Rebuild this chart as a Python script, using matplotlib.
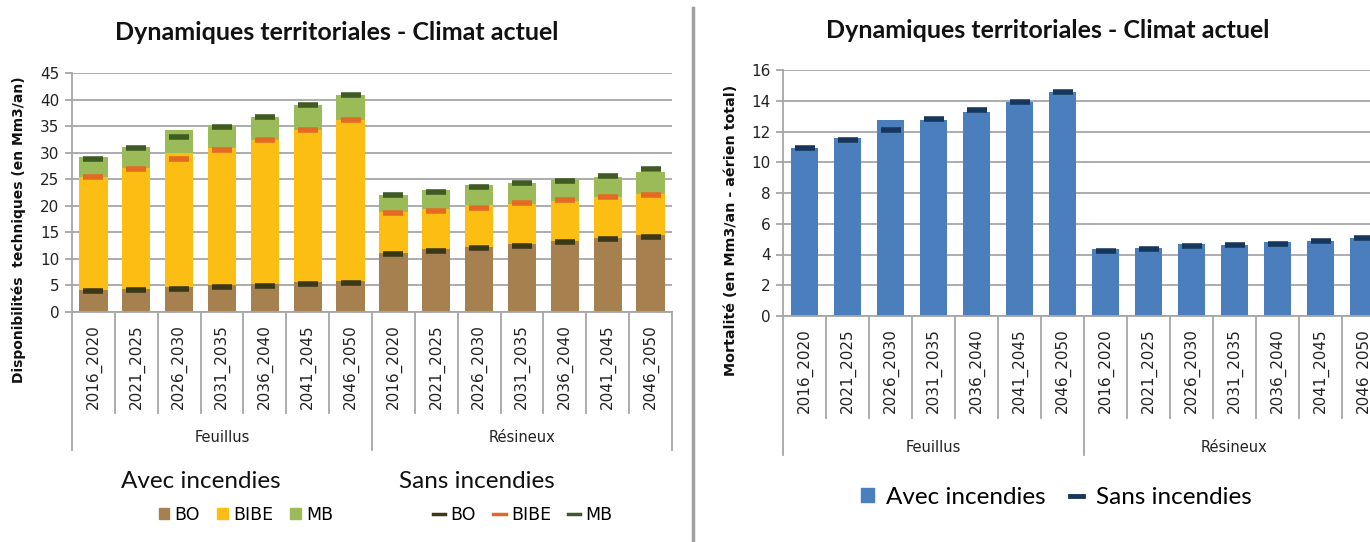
import numpy as np
import matplotlib.pyplot as plt
from matplotlib.patches import Patch
from matplotlib.lines import Line2D

# Categories: 7 periods for each group (Feuillus, Résineux)
periods = ['2016_2020', '2021_2025', '2026_2030', '2031_2035',
           '2036_2040', '2041_2045', '2046_2050']
groups = ['Feuillus', 'Résineux']
labels = periods + periods

# Disponibilités techniques (Mm3/an) - avec incendies (stacked bars)
bo_avec = [4.1, 4.3, 4.7, 5.0, 5.3, 5.6, 5.8,
           11.2, 11.8, 12.3, 12.8, 13.3, 14.0, 14.5]
bibe_avec = [21.3, 22.9, 25.2, 25.8, 27.1, 28.7, 30.4,
             7.7, 7.6, 7.8, 7.6, 7.6, 7.6, 7.7]
mb_avec = [3.7, 3.8, 4.3, 4.3, 4.3, 4.6, 4.6,
           3.2, 3.5, 3.9, 3.8, 4.1, 3.9, 4.2]

# Disponibilités techniques - sans incendies (stacked line, dash markers)
bo_sans = [3.9, 4.1, 4.4, 4.7, 4.9, 5.2, 5.5,
           10.9, 11.4, 12.0, 12.5, 13.1, 13.7, 14.2]
bibe_sans = [21.5, 22.9, 24.5, 25.8, 27.5, 29.1, 30.6,
             7.7, 7.7, 7.6, 8.0, 7.9, 7.9, 7.9]
mb_sans = [3.5, 3.8, 4.1, 4.3, 4.3, 4.6, 4.7,
           3.5, 3.5, 3.9, 3.8, 3.7, 4.0, 4.8]

# Mortalité (Mm3/an - aérien total)
mort_avec = [10.9, 11.55, 12.75, 12.75, 13.3, 13.95, 14.55,
             4.35, 4.4, 4.7, 4.6, 4.8, 4.9, 5.07]
mort_sans = [10.9, 11.45, 12.1, 12.8, 13.4, 13.95, 14.55,
             4.25, 4.35, 4.55, 4.62, 4.7, 4.9, 5.1]

c_bo, c_bibe, c_mb = '#A6804F', '#FDBE14', '#9BBB59'
m_bo, m_bibe, m_mb = '#3B3816', '#E46A22', '#3F5A22'
c_mort, m_mort = '#4A7EBD', '#16365C'
grid_c = '#A6A6A6'
title_font = 'Lato'

W, H = 1370, 542
fig = plt.figure(figsize=(W / 100, H / 100), dpi=100)


def px_axes(x0, y0, x1, y1):
    # axes from pixel box (top-left origin)
    return fig.add_axes([x0 / W, 1 - y1 / H, (x1 - x0) / W, (y1 - y0) / H])


def style_axes(ax, ymax, ystep, sep_bottom, grp_bottom, grp_label_y):
    n = len(labels)
    x = np.arange(n)
    ax.set_xlim(-0.5, n - 0.5)
    ax.set_ylim(0, ymax)
    ax.set_yticks(np.arange(0, ymax + 0.1, ystep))
    ax.yaxis.grid(True, color=grid_c, lw=1.3)
    ax.set_axisbelow(True)
    for s in ['top', 'right']:
        ax.spines[s].set_visible(False)
    for s in ['left', 'bottom']:
        ax.spines[s].set_color(grid_c)
        ax.spines[s].set_linewidth(1.3)
    ax.tick_params(axis='y', color=grid_c, length=5, width=1.3,
                   labelsize=11, pad=4, labelcolor='#222222')
    ax.set_xticks(x)
    ax.set_xticklabels(labels, rotation=90, fontsize=11, color='#222222')
    ax.tick_params(axis='x', length=0, pad=9)
    # multi-level category lines below the axis
    tr = ax.get_xaxis_transform()
    for i in range(n + 1):
        b = grp_bottom if i % 7 == 0 else sep_bottom
        ax.plot([i - 0.5, i - 0.5], [0, b], transform=tr, color=grid_c,
                lw=1.3, clip_on=False)
    for g, name in enumerate(groups):
        ax.text(g * 7 + 3, grp_label_y, name, transform=tr, ha='center',
                va='center', fontsize=10.5, color='#222222')


# Left chart: disponibilités techniques
ax1 = px_axes(72, 73, 672, 312)
x = np.arange(len(labels))
bw = 0.66
ax1.bar(x, bo_avec, bw, color=c_bo)
ax1.bar(x, bibe_avec, bw, bottom=bo_avec, color=c_bibe)
ax1.bar(x, mb_avec, bw, bottom=np.add(bo_avec, bibe_avec), color=c_mb)

sans_cum = np.cumsum([bo_sans, bibe_sans, mb_sans], axis=0)
for vals, col in zip(sans_cum, [m_bo, m_bibe, m_mb]):
    ax1.plot(x, vals, ls='none', marker='_', ms=14.5, mew=4, color=col)

style_axes(ax1, 45, 5, -0.4226, -0.577, -0.527)
fig.text(19 / W, 1 - 230 / H, 'Disponibilités  techniques (en Mm3/an)',
         rotation=90, ha='center', va='center', fontsize=10,
         fontweight='bold', color='#111111')
fig.text(337 / W, 1 - 33 / H, 'Dynamiques territoriales - Climat actuel',
         ha='center', va='center', fontsize=18, fontweight='bold',
         family=title_font, color='#111111')

# legends of the left chart
fig.text(121 / W, 1 - 482 / H, 'Avec incendies', ha='left', va='center',
         fontsize=17.5, family=title_font, color='#111111')
fig.text(399 / W, 1 - 482 / H, 'Sans incendies', ha='left', va='center',
         fontsize=17.5, family=title_font, color='#111111')
h_avec = [Patch(color=c) for c in [c_bo, c_bibe, c_mb]]
fig.legend(h_avec, ['BO', 'BIBE', 'MB'], ncol=3, frameon=False,
           loc='center', bbox_to_anchor=(246 / W, 1 - 515 / H),
           fontsize=12.5, handlelength=0.6, handleheight=0.6,
           handletextpad=0.3, columnspacing=1.0)
h_sans = [Line2D([], [], color=c, lw=2.5) for c in [m_bo, m_bibe, m_mb]]
fig.legend(h_sans, ['BO', 'BIBE', 'MB'], ncol=3, frameon=False,
           loc='center', bbox_to_anchor=(523 / W, 1 - 515 / H),
           fontsize=12.5, handlelength=0.7, handletextpad=0.3,
           columnspacing=1.0)

# divider between the two charts
fig.add_artist(Line2D([693 / W, 693 / W], [0, 1 - 8 / H], color='#A0A0A0',
                      lw=2.5))

# Right chart: mortalité
ax2 = px_axes(783, 70, 1385, 316)
ax2.bar(x, mort_avec, 0.64, color=c_mort)
ax2.plot(x, mort_sans, ls='none', marker='_', ms=14.5, mew=4, color=m_mort)
style_axes(ax2, 16, 2, -0.4146, -0.565, -0.533)
fig.text(731 / W, 1 - 230 / H, 'Mortalité (en Mm3/an - aérien total)',
         rotation=90, ha='center', va='center', fontsize=10.3,
         fontweight='bold', color='#111111')
fig.text(1048 / W, 1 - 30 / H, 'Dynamiques territoriales - Climat actuel',
         ha='center', va='center', fontsize=18, fontweight='bold',
         family=title_font, color='#111111')
h2 = [Patch(color=c_mort), Line2D([], [], color=m_mort, lw=3.5)]
fig.legend(h2, ['Avec incendies', 'Sans incendies'], ncol=2, frameon=False,
           loc='center', bbox_to_anchor=(1056 / W, 1 - 497 / H),
           prop={'family': title_font, 'size': 17.5}, handlelength=0.55,
           handleheight=0.55, handletextpad=0.5, columnspacing=1.0)

fig.savefig('out.png', dpi=100)
